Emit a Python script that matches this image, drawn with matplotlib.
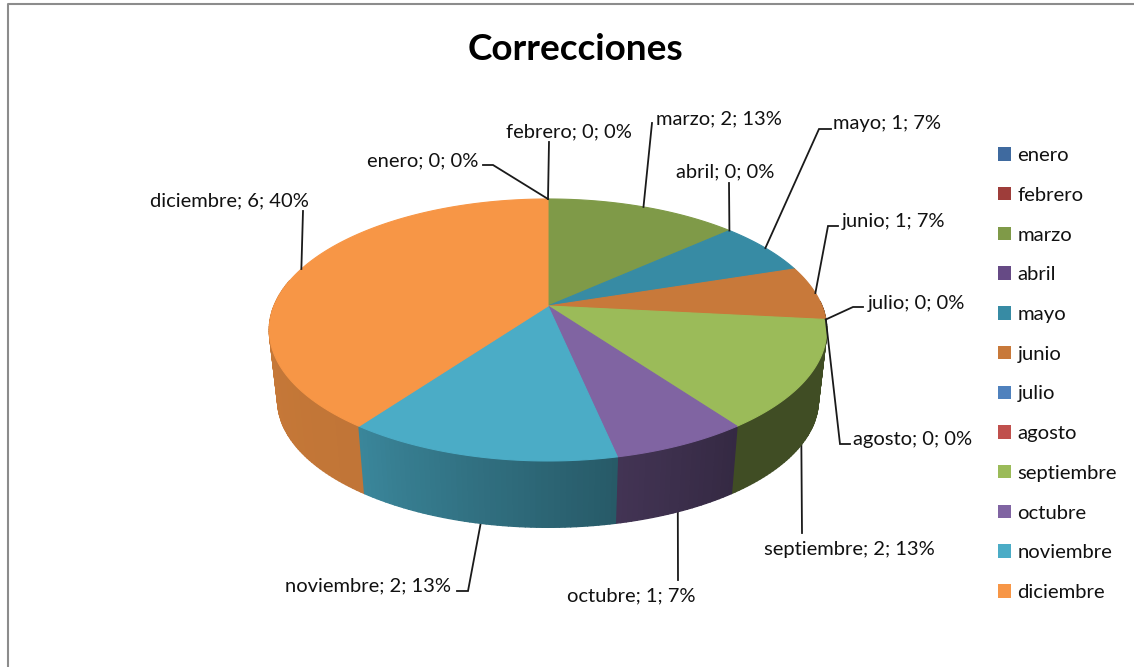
import numpy as np
import matplotlib
matplotlib.use("Agg")
import matplotlib.pyplot as plt
from matplotlib.collections import PolyCollection
from matplotlib.patches import Patch, Polygon

months = ["enero", "febrero", "marzo", "abril", "mayo", "junio", "julio", "agosto",
          "septiembre", "octubre", "noviembre", "diciembre"]
values = [0, 0, 2, 0, 1, 1, 0, 0, 2, 1, 2, 6]
colors = ["#3F6A9F", "#9E3D3A", "#7F9A48", "#664A85", "#378BA4", "#C8793A",
          "#4F81BD", "#C0504D", "#9BBB59", "#8064A2", "#4BACC6", "#F79646"]
title = "Correcciones"
labels = ["enero; 0; 0%", "febrero; 0; 0%", "marzo; 2; 13%", "abril; 0; 0%", "mayo; 1; 7%",
          "junio; 1; 7%", "julio; 0; 0%", "agosto; 0; 0%", "septiembre; 2; 13%",
          "octubre; 1; 7%", "noviembre; 2; 13%", "diciembre; 6; 40%"]

# ---- layout (pixels) ----
W, H = 1134, 667
CX, CY, R, V, K = 548.0, 306.0, 274.0, 126.6, 0.183
BOTTOM_CY, BOTTOM_SCALE = 377.0, 0.97
SHADE_A = [96, 144, 168, 216, 290, 360]
SHADE_F = [0.41, 0.41, 0.52, 0.78, 0.82, 0.82]
WALL_FROM, WALL_TO = 88.0, 282.0  # part of the wall that faces the viewer
FONT = "Lato"

label_pos = [(367, 161), (506, 132), (656, 119), (676, 172), (833, 124), (842, 222),
             (868, 303), (853, 440), (764, 550), (567, 596), (285, 586), (150, 201)]
# leader elbow points, from the label towards the slice
leader_via = [[(483, 165), (493, 165)], [(549, 142)], [(652, 123)], [(729, 183)],
              [(831, 129), (819, 129)], [(838, 226), (828, 226)], [(863, 307), (853, 307)],
              [(850, 444), (840, 444)], [(802, 533)], [(678, 580)],
              [(457, 591), (468, 591)], [(303, 211)]]


def project(a_deg, bottom=False, r=1.0):
    a = np.radians(a_deg)
    x, y = r * np.sin(a), r * np.cos(a)
    f = 1.0 / (1.0 + K * y)
    if bottom:
        return CX + BOTTOM_SCALE * R * x * f, BOTTOM_CY - BOTTOM_SCALE * V * y * f
    return CX + R * x * f, CY - V * y * f


vals = np.array(values, float)
edges = np.concatenate([[0.0], np.cumsum(vals) / vals.sum() * 360.0])
mids = (edges[:-1] + edges[1:]) / 2

plt.rcParams["font.family"] = [FONT, "DejaVu Sans"]
fig = plt.figure(figsize=(W / 100, H / 100), dpi=100)
ax = fig.add_axes([0, 0, 1, 1])
ax.set_xlim(0, W)
ax.set_ylim(H, 0)
ax.axis("off")

# chart frame (open to the right and bottom in the crop)
ax.plot([7.5, 7.5, W], [H, 3.5, 3.5], color="#8C8C8C", lw=1.5, zorder=1)

# side wall
quads, qcols, qdepth = [], [], []
for i, v in enumerate(values):
    if v == 0:
        continue
    start, stop = max(edges[i], WALL_FROM), min(edges[i + 1], WALL_TO)
    if stop <= start:
        continue
    base = np.array(matplotlib.colors.to_rgb(colors[i]))
    for a in np.arange(start, stop, 1.0):
        b = min(a + 1.0, stop)
        t0, t1 = project(a), project(b)
        b0, b1 = project(a, True), project(b, True)
        quads.append([t0, t1, b1, b0])
        qcols.append(base * np.interp((a + b) / 2, SHADE_A, SHADE_F))
        qdepth.append(b0[1])
order = np.argsort(qdepth)
ax.add_collection(PolyCollection([quads[j] for j in order],
                                 facecolors=[qcols[j] for j in order],
                                 edgecolors=[qcols[j] for j in order],
                                 linewidths=1.0, zorder=3))

# top face
for i, v in enumerate(values):
    if v == 0:
        continue
    ang = np.linspace(edges[i], edges[i + 1], 120)
    pts = [(CX, CY)] + [project(a) for a in ang]
    ax.add_patch(Polygon(pts, closed=True, facecolor=colors[i], edgecolor=colors[i],
                         linewidth=0.8, zorder=4))

# leader lines and labels
for i, lab in enumerate(labels):
    on_side = 100 < mids[i] < 270
    anchor = project(mids[i], bottom=on_side)
    pts = leader_via[i] + [anchor]
    xs, ys = zip(*pts)
    ax.plot(xs, ys, color="#1A1A1A", lw=1.3, zorder=2 if on_side else 5,
            solid_joinstyle="miter")
    ax.text(label_pos[i][0], label_pos[i][1], lab, fontsize=14.5, color="#111111",
            ha="left", va="center", zorder=6)

ax.text(575, 49.5, title, fontsize=26.6, fontweight="bold", color="black",
        ha="center", va="center", zorder=6)

handles = [Patch(facecolor=c, edgecolor="none", label=m) for m, c in zip(months, colors)]
leg = ax.legend(handles=handles, loc="upper left", bbox_to_anchor=(990 / W, 1 - 139 / H),
                bbox_transform=ax.transAxes, frameon=False, fontsize=14.6,
                handlelength=0.64, handleheight=0.64, handletextpad=0.32,
                labelspacing=1.12, borderpad=0.4, borderaxespad=0)
for t in leg.get_texts():
    t.set_color("#111111")

fig.savefig("out.png", dpi=100)
